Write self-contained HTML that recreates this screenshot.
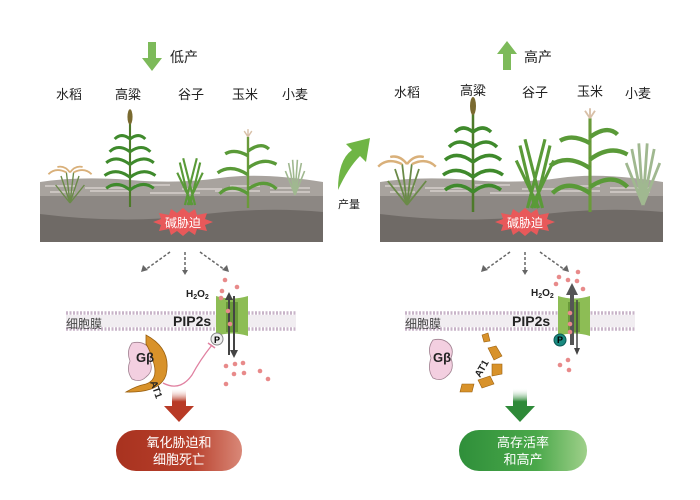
<!DOCTYPE html>
<html><head><meta charset="utf-8"><style>
html,body{margin:0;padding:0;background:#fff;}
svg{display:block;}
text{font-family:"Liberation Sans","Noto Sans CJK SC",sans-serif;}
</style></head><body>
<svg width="700" height="500" viewBox="0 0 700 500" xmlns="http://www.w3.org/2000/svg">
<defs>
<linearGradient id="rg" x1="0" x2="1"><stop offset="0" stop-color="#a8321f"/><stop offset="0.6" stop-color="#b8402c"/><stop offset="1" stop-color="#d98878"/></linearGradient>
<linearGradient id="gg" x1="0" x2="1"><stop offset="0" stop-color="#2f8f3a"/><stop offset="0.6" stop-color="#4aa84a"/><stop offset="1" stop-color="#9fd08a"/></linearGradient>
<linearGradient id="ra" x1="0" y1="0" x2="0" y2="1"><stop offset="0" stop-color="#fff" stop-opacity="0"/><stop offset="0.4" stop-color="#b83a26"/></linearGradient>
<linearGradient id="ga" x1="0" y1="0" x2="0" y2="1"><stop offset="0" stop-color="#fff" stop-opacity="0"/><stop offset="0.4" stop-color="#2e8a38"/></linearGradient>
<g id="tall">
<path d="M0 0 V-100" stroke="#4d7a2a" stroke-width="2.5"/>
<path d="M0 -20 q-15 -12 -28 -2 M0 -20 q15 -12 28 -2 M0 -35 q-16 -12 -30 -2 M0 -35 q16 -12 30 -2 M0 -50 q-16 -12 -28 -2 M0 -50 q16 -12 28 -2 M0 -65 q-14 -10 -24 0 M0 -65 q14 -10 24 0 M0 -80 q-10 -8 -18 0 M0 -80 q10 -8 18 0" stroke="#3f8a2c" stroke-width="3.5" fill="none"/>
<ellipse cx="0" cy="-106" rx="3" ry="9" fill="#7a6a30"/>
</g>
<g id="millet">
<path d="M-6 0 L8 -55 M6 0 L-8 -55 M0 0 L12 -50 M0 0 L-12 -50 M-3 0 L15 -38 M3 0 L-15 -38" stroke="#5a9a38" stroke-width="2.5" fill="none"/>
</g>
<g id="maize">
<path d="M0 0 V-75" stroke="#6a9a3a" stroke-width="2.5"/>
<path d="M0 -15 q-18 -12 -30 0 M0 -20 q18 -12 30 0 M0 -35 q-18 -12 -32 -2 M0 -42 q16 -12 30 -4 M0 -55 q-14 -8 -24 -2 M0 -60 q14 -10 22 -2" stroke="#5a9a38" stroke-width="3.5" fill="none"/>
<path d="M0 -75 l-4 -6 M0 -75 l4 -6 M0 -75 v-8" stroke="#d8c0a8" stroke-width="1.5"/>
</g>
<g id="wheat">
<path d="M0 0 L-8 -40 M0 0 L-3 -44 M0 0 L3 -44 M0 0 L8 -40 M0 0 L-12 -30 M0 0 L12 -30" stroke="#a0b890" stroke-width="2" fill="none"/>
</g>
<g id="rice">
<path d="M0 0 L-10 -30 M0 0 L-4 -34 M0 0 L4 -34 M0 0 L10 -30 M0 0 L-16 -20 M0 0 L16 -20" stroke="#6a8a48" stroke-width="1.5" fill="none"/>
<path d="M-4 -34 q-12 -6 -20 2 M4 -34 q12 -6 20 2 M0 -34 q-6 -8 -14 -6 M0 -34 q6 -8 14 -6" stroke="#d9b07a" stroke-width="2" fill="none"/>
</g>
<g id="soil">
<rect x="0" y="0" width="283" height="52" fill="#6f6a66"/>
<path d="M0 0 H283 V22 Q220 16 150 26 Q80 34 0 24 Z" fill="#8c8783"/>
<path d="M0 -8 Q40 -14 90 -10 T180 -12 T283 -8 V6 H0 Z" fill="#a8a39e"/>
<path d="M5 -4 h30 m10 2 h40 m10 -3 h35 m12 4 h40 m8 -3 h30 m10 2 h40 M10 2 h25 m15 -1 h40 m20 2 h50 m15 -2 h45 m10 1 h40" stroke="#d5d0cb" stroke-width="1.5" fill="none"/>
</g>
<g id="burst">
<polygon points="0,-14 6,-9 12,-13 14,-7 24,-9 22,-3 30,0 22,3 24,9 14,7 12,13 6,9 0,14 -6,9 -12,13 -14,7 -24,9 -22,3 -30,0 -22,-3 -24,-9 -14,-7 -12,-13 -6,-9" fill="#e8595a"/>
</g>
<g id="mem">
<line x1="0" y1="0" x2="230" y2="0" stroke="#c8b4c8" stroke-width="3.5" stroke-dasharray="2 1.5"/>
<line x1="0" y1="16" x2="230" y2="16" stroke="#c8b4c8" stroke-width="3.5" stroke-dasharray="2 1.5"/>
<rect x="0" y="2" width="230" height="12" fill="#f1edf1"/>
</g>
<g id="dash">
<path d="M-15 0 L-40 18" stroke="#666" stroke-width="1.5" stroke-dasharray="3 2" fill="none"/>
<path d="M-44 20 l2 -7 l5 5 z" fill="#666"/>
<path d="M0 0 V20" stroke="#666" stroke-width="1.5" stroke-dasharray="3 2"/>
<path d="M-3 18 h6 l-3 5 z" fill="#666"/>
<path d="M15 0 L40 18" stroke="#666" stroke-width="1.5" stroke-dasharray="3 2" fill="none"/>
<path d="M44 20 l-2 -7 l-5 5 z" fill="#666"/>
</g>
<g id="chan">
<path d="M0 -14 q16 5 32 0 v40 q-16 -5 -32 0 z" fill="#8dbd55"/>
<path d="M10 -8 h12 v30 h-12 z" fill="#6a9a3a"/>
</g>
</defs>

<!-- top arrows -->
<path d="M148 42 h8 v16 h6 l-10 13 l-10 -13 h6 z" fill="#7dba5a"/>
<text x="170" y="62" font-size="14" fill="#222">低产</text>
<path d="M503 70 h8 v-16 h6 l-10 -13 l-10 13 h6 z" fill="#7dba5a"/>
<text x="524" y="62" font-size="14" fill="#222">高产</text>

<g font-size="13" fill="#222">
<text x="56" y="99">水稻</text><text x="115" y="99">高粱</text><text x="178" y="99">谷子</text><text x="232" y="99">玉米</text><text x="282" y="99">小麦</text>
<text x="394" y="97">水稻</text><text x="460" y="95">高粱</text><text x="522" y="97">谷子</text><text x="577" y="96">玉米</text><text x="625" y="98">小麦</text>
</g>

<!-- soils -->
<use href="#soil" x="40" y="190"/>
<use href="#soil" x="380" y="190"/>

<!-- plants left -->
<use href="#rice" transform="translate(70,203) scale(0.9)"/>
<use href="#tall" transform="translate(130,207) scale(0.85)"/>
<use href="#millet" transform="translate(190,205) scale(0.85)"/>
<use href="#maize" transform="translate(248,208) scale(0.95)"/>
<use href="#wheat" transform="translate(295,195) scale(0.8)"/>
<!-- plants right -->
<use href="#rice" transform="translate(407,205) scale(1.2)"/>
<use href="#tall" transform="translate(473,212) scale(1.0)"/>
<use href="#millet" transform="translate(535,208) scale(1.25)"/>
<use href="#maize" transform="translate(590,212) scale(1.25)"/>
<use href="#wheat" transform="translate(643,205) scale(1.4)"/>

<use href="#burst" x="183" y="222"/>
<text x="183" y="227" font-size="12" fill="#fff" text-anchor="middle">碱胁迫</text>
<use href="#burst" x="525" y="222"/>
<text x="525" y="227" font-size="12" fill="#fff" text-anchor="middle">碱胁迫</text>

<!-- middle arrow -->
<path d="M338 190 Q338 160 352 150 L346 144 L370 138 L366 162 L360 156 Q348 168 338 190 Z" fill="#6fb545"/>
<text x="338" y="208" font-size="11" fill="#222">产量</text>

<use href="#dash" x="185" y="252"/>
<use href="#dash" x="525" y="252"/>

<!-- membranes -->
<use href="#mem" x="66" y="313"/>
<use href="#mem" x="405" y="313"/>
<text x="66" y="328" font-size="12" fill="#444">细胞膜</text>
<text x="405" y="328" font-size="12" fill="#444">细胞膜</text>
<text x="173" y="326" font-size="14" font-weight="bold" fill="#222">PIP2s</text>
<text x="512" y="326" font-size="14" font-weight="bold" fill="#222">PIP2s</text>
<text x="186" y="297" font-size="10" font-weight="bold" fill="#222">H<tspan font-size="7" dy="2">2</tspan><tspan dy="-2">O</tspan><tspan font-size="7" dy="2">2</tspan></text>
<text x="531" y="296" font-size="10" font-weight="bold" fill="#222">H<tspan font-size="7" dy="2">2</tspan><tspan dy="-2">O</tspan><tspan font-size="7" dy="2">2</tspan></text>

<use href="#chan" x="216" y="310"/>
<use href="#chan" x="558" y="310"/>
<!-- left arrows through channel -->
<path d="M229 355 V298" stroke="#444" stroke-width="2"/><path d="M225 300 l4 -8 l4 8z" fill="#444"/>
<path d="M234 296 V352" stroke="#444" stroke-width="2"/><path d="M230 350 l4 8 l4 -8z" fill="#444"/>
<circle cx="217" cy="339" r="6" fill="#eee" stroke="#888"/><text x="217" y="343" font-size="9" font-weight="bold" text-anchor="middle">P</text>
<path d="M163 383 Q180 392 192 375 Q200 360 212 345" stroke="#e080a0" stroke-width="1.3" fill="none"/>
<path d="M208 343 l7 5" stroke="#e080a0" stroke-width="1.5"/>
<!-- right arrows -->
<path d="M572 345 V292" stroke="#555" stroke-width="4"/><path d="M566 295 l6 -12 l6 12z" fill="#555"/>
<path d="M577 300 V350" stroke="#444" stroke-width="1.5"/><path d="M574 348 l3 7 l3 -7z" fill="#444"/>
<circle cx="560" cy="340" r="6" fill="#1a8a80" stroke="#0c5a55"/><text x="560" y="343" font-size="9" font-weight="bold" text-anchor="middle">P</text>

<!-- dots -->
<g fill="#e88a8a">
<circle cx="225" cy="280" r="2.3"/><circle cx="237" cy="287" r="2.3"/><circle cx="222" cy="291" r="2.3"/><circle cx="221" cy="298" r="2.3"/><circle cx="228" cy="311" r="2.3"/><circle cx="230" cy="324" r="2.3"/>
<circle cx="226" cy="366" r="2.3"/><circle cx="235" cy="364" r="2.3"/><circle cx="243" cy="363" r="2.3"/><circle cx="234" cy="374" r="2.3"/><circle cx="244" cy="373" r="2.3"/><circle cx="260" cy="371" r="2.3"/><circle cx="268" cy="379" r="2.3"/><circle cx="226" cy="384" r="2.3"/>
<circle cx="559" cy="277" r="2.3"/><circle cx="578" cy="272" r="2.3"/><circle cx="568" cy="280" r="2.3"/><circle cx="577" cy="281" r="2.3"/><circle cx="583" cy="289" r="2.3"/><circle cx="556" cy="284" r="2.3"/><circle cx="570" cy="313" r="2.3"/><circle cx="570" cy="324" r="2.3"/><circle cx="570" cy="332" r="2.3"/>
<circle cx="568" cy="360" r="2.3"/><circle cx="560" cy="365" r="2.3"/><circle cx="569" cy="370" r="2.3"/>
</g>

<!-- left Gbeta + AT1 -->
<path d="M132 343 q-6 8 -2 18 q-4 10 2 18 q8 4 14 -2 q8 -6 4 -16 q4 -10 -4 -16 q-6 -4 -14 -2z" fill="#f3cfe0" stroke="#a08090" stroke-width="0.8"/>
<path d="M146 335 q26 14 20 40 q-6 18 -40 17 q10 -6 20 -8 q12 -4 8 -20 q-4 -14 -8 -20z" fill="#d8922a" stroke="#9a6010" stroke-width="0.8"/>
<text x="136" y="362" font-size="13" font-weight="bold" fill="#222">Gβ</text>
<text x="150" y="382" font-size="10" font-weight="bold" fill="#222" transform="rotate(70 150 382)">AT1</text>

<!-- right Gbeta + broken AT1 -->
<path d="M433 340 q-6 8 -2 18 q-4 12 2 20 q8 4 14 -2 q8 -6 4 -18 q4 -10 -4 -16 q-6 -4 -14 -2z" fill="#f3cfe0" stroke="#a08090" stroke-width="0.8"/>
<text x="433" y="362" font-size="13" font-weight="bold" fill="#222">Gβ</text>
<g fill="#d8922a" stroke="#9a6010" stroke-width="0.6">
<path d="M482 335 l6 -2 l2 8 l-6 1z"/><path d="M488 348 l8 -2 l6 10 l-8 4z"/><path d="M492 364 l10 0 l0 10 l-10 2z"/>
<path d="M478 380 l12 -4 l4 8 l-12 4z"/><path d="M462 384 l12 0 l-2 8 l-12 0z"/>
</g>
<text x="480" y="378" font-size="10" font-weight="bold" fill="#222" transform="rotate(-60 480 378)">AT1</text>

<!-- result arrows -->
<path d="M172 388 h14 v18 h8 l-15 16 l-15 -16 h8 z" fill="url(#ra)"/>
<path d="M513 388 h14 v18 h8 l-15 16 l-15 -16 h8 z" fill="url(#ga)"/>

<rect x="116" y="430" width="126" height="41" rx="20" fill="url(#rg)"/>
<text x="179" y="447" font-size="13" fill="#fff" text-anchor="middle">氧化胁迫和</text>
<text x="179" y="464" font-size="13" fill="#fff" text-anchor="middle">细胞死亡</text>
<rect x="459" y="430" width="128" height="41" rx="20" fill="url(#gg)"/>
<text x="523" y="447" font-size="13" fill="#fff" text-anchor="middle">高存活率</text>
<text x="523" y="464" font-size="13" fill="#fff" text-anchor="middle">和高产</text>
</svg>
</body></html>
